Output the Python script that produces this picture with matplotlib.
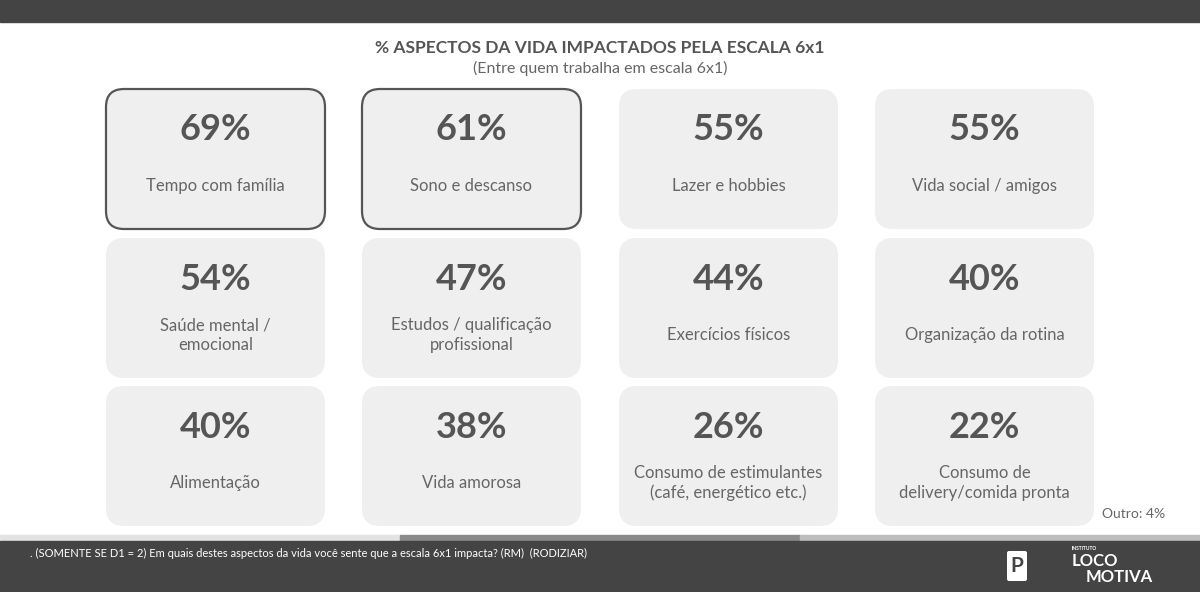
import matplotlib
matplotlib.use("Agg")
import matplotlib.pyplot as plt
from matplotlib.patches import FancyBboxPatch, Rectangle

values = [69, 61, 55, 55, 54, 47, 44, 40, 40, 38, 26, 22]
labels = ["Tempo com família", "Sono e descanso", "Lazer e hobbies", "Vida social / amigos",
          "Saúde mental /\nemocional", "Estudos / qualificação\nprofissional", "Exercícios físicos",
          "Organização da rotina", "Alimentação", "Vida amorosa",
          "Consumo de estimulantes\n(café, energético etc.)", "Consumo de\ndelivery/comida pronta"]
highlight = [True, True] + [False] * 10

plt.rcParams['font.family'] = ['Lato', 'DejaVu Sans']
fig = plt.figure(figsize=(12, 5.92), dpi=100)
ax = fig.add_axes([0, 0, 1, 1])
ax.set_xlim(0, 1200); ax.set_ylim(592, 0); ax.axis('off')

ax.add_patch(Rectangle((0, 0), 1200, 22, color='#444444'))
ax.text(600, 48, "% ASPECTOS DA VIDA IMPACTADOS PELA ESCALA 6x1", ha='center', va='center',
        fontsize=12.5, fontweight='bold', color='#555555')
ax.text(600, 68, "(Entre quem trabalha em escala 6x1)", ha='center', va='center',
        fontsize=11.5, color='#666666')

xs = [106, 362, 619, 875]; ys = [89, 238, 386]
w, h = 219, 140
for i, (v, lab, hl) in enumerate(zip(values, labels, highlight)):
    x = xs[i % 4]; y = ys[i // 4]
    ax.add_patch(FancyBboxPatch((x + 18, y + 18), w - 36, h - 36,
                                boxstyle="round,pad=18",
                                fc='#efefef', ec='#555555' if hl else 'none',
                                lw=1.6 if hl else 0))
    ax.text(x + w / 2, y + 41, f"{v}%", ha='center', va='center', fontsize=26,
            fontweight='bold', color='#555555')
    ax.text(x + w / 2, y + 97, lab, ha='center', va='center', fontsize=12,
            color='#666666', linespacing=1.3)

ax.text(1165, 514, "Outro: 4%", ha='right', va='center', fontsize=10, color='#666666')

ax.add_patch(Rectangle((0, 535), 400, 6, color='#e3e3e3'))
ax.add_patch(Rectangle((400, 535), 400, 6, color='#8a8a8a'))
ax.add_patch(Rectangle((800, 535), 400, 6, color='#bdbdbd'))
ax.add_patch(Rectangle((0, 541), 1200, 51, color='#444444'))
ax.text(30, 553, ". (SOMENTE SE D1 = 2) Em quais destes aspectos da vida você sente que a escala 6x1 impacta? (RM)  (RODIZIAR)",
        ha='left', va='center', fontsize=8, color='white')
ax.add_patch(FancyBboxPatch((1009, 553), 16, 26, boxstyle="round,pad=2", fc='white', ec='none'))
ax.text(1017, 566, "P", ha='center', va='center', fontsize=15, fontweight='bold', color='#444444')
ax.text(1072, 549, "INSTITUTO", ha='left', va='center', fontsize=3.5, color='white', fontweight='bold')
ax.text(1072, 561, "LOCO", ha='left', va='center', fontsize=12, color='white', fontweight='bold')
ax.text(1086, 577, "MOTIVA", ha='left', va='center', fontsize=12, color='white', fontweight='bold')

fig.savefig("out.png", dpi=100)
